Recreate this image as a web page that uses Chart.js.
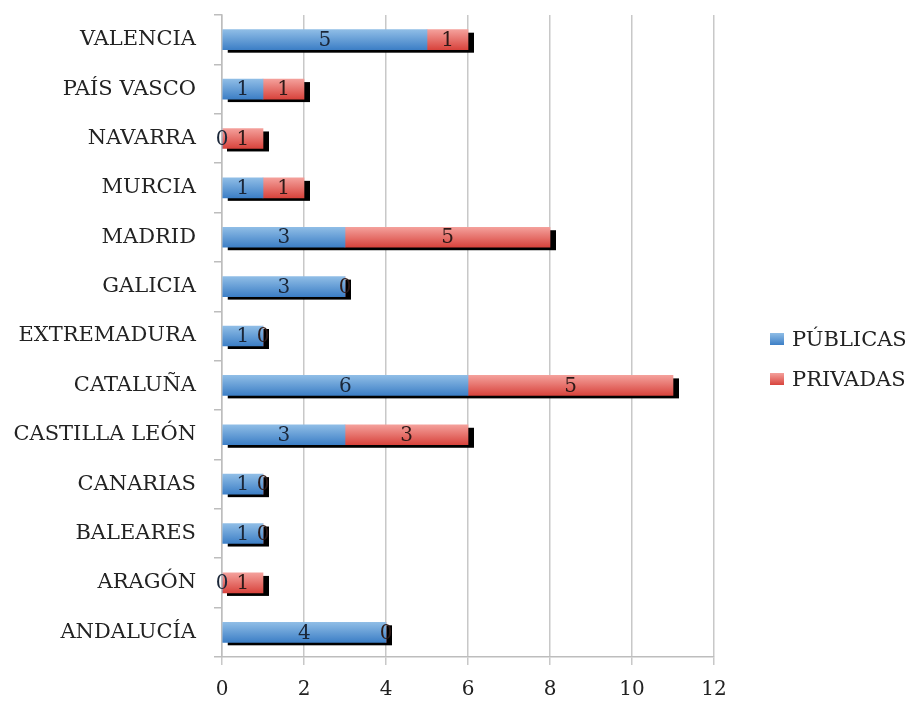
<!DOCTYPE html>
<html>
<head>
<meta charset="utf-8">
<script src="https://cdn.jsdelivr.net/npm/chart.js"></script>
<style>
  html, body { margin: 0; padding: 0; background: #fff; }
  #box { width: 909px; height: 701px; }
</style>
</head>
<body>
<div id="box"><canvas id="c"></canvas></div>
<script>
const regiones = ['VALENCIA', 'PAÍS VASCO', 'NAVARRA', 'MURCIA', 'MADRID', 'GALICIA',
  'EXTREMADURA', 'CATALUÑA', 'CASTILLA LEÓN', 'CANARIAS', 'BALEARES', 'ARAGÓN', 'ANDALUCÍA'];
const publicas = [5, 1, 0, 1, 3, 3, 1, 6, 3, 1, 1, 0, 4];
const privadas = [1, 1, 1, 1, 5, 0, 0, 5, 3, 0, 0, 1, 0];
const ticksX = [0, 2, 4, 6, 8, 10, 12];

const fuente = 'DejaVu Serif';
const grueso = 20;
const colores = [['#8fbde6', '#3d7fc6'], ['#f4a09b', '#d8443d']];

function degradado(par) {
  return function (ctx) {
    const ch = ctx.chart;
    const sy = ch.scales && ch.scales.y;
    if (!sy || ctx.dataIndex === undefined) return par[1];
    const y = sy.getPixelForValue(ctx.dataIndex);
    if (!isFinite(y)) return par[1];
    const g = ch.ctx.createLinearGradient(0, y - grueso / 2, 0, y + grueso / 2);
    g.addColorStop(0, par[0]);
    g.addColorStop(1, par[1]);
    return g;
  };
}

// sombra negra detras de cada barra apilada
const sombra = {
  id: 'sombra',
  beforeDatasetsDraw(chart) {
    const a = chart.getDatasetMeta(0).data;
    const b = chart.getDatasetMeta(1).data;
    const c = chart.ctx;
    c.save();
    c.fillStyle = '#000';
    for (let i = 0; i < a.length; i++) {
      const x0 = a[i].base;
      const x1 = b[i].x;
      const h = a[i].height;
      c.fillRect(x0 + 5, a[i].y - h / 2 + 3, x1 - x0 + 1, h);
    }
    c.restore();
  }
};

// numeros dentro de cada tramo
const etiquetas = {
  id: 'etiquetas',
  afterDatasetsDraw(chart) {
    const c = chart.ctx;
    c.save();
    c.font = '20px "' + fuente + '"';
    c.textAlign = 'center';
    c.textBaseline = 'middle';
    chart.data.datasets.forEach((ds, di) => {
      c.fillStyle = di === 0 ? '#1a2638' : '#2e1a18';
      chart.getDatasetMeta(di).data.forEach((el, i) => {
        const cx = (el.x + el.base) / 2;
        c.fillText(String(ds.data[i]), cx, el.y + 1);
      });
    });
    c.restore();
  }
};

// leyenda a la derecha
const leyenda = {
  id: 'leyenda',
  afterDraw(chart) {
    const c = chart.ctx;
    const ca = chart.chartArea;
    const x = ca.right + 56;
    const y0 = (ca.top + ca.bottom) / 2 + 3;
    c.save();
    c.font = '21px "' + fuente + '"';
    c.textBaseline = 'middle';
    c.textAlign = 'left';
    chart.data.datasets.forEach((ds, i) => {
      const y = y0 + i * 40;
      const g = c.createLinearGradient(0, y - 6, 0, y + 6);
      g.addColorStop(0, colores[i][0]);
      g.addColorStop(1, colores[i][1]);
      c.fillStyle = g;
      c.fillRect(x, y - 6, 14, 12);
      c.fillStyle = '#222';
      c.fillText(ds.label, x + 22, y + 2);
    });
    c.restore();
  }
};

new Chart(document.getElementById('c'), {
  type: 'bar',
  data: {
    labels: regiones,
    datasets: [
      { label: 'PÚBLICAS', data: publicas, backgroundColor: degradado(colores[0]) },
      { label: 'PRIVADAS', data: privadas, backgroundColor: degradado(colores[1]) }
    ]
  },
  options: {
    indexAxis: 'y',
    responsive: true,
    maintainAspectRatio: false,
    animation: false,
    datasets: { bar: { barThickness: grueso, borderWidth: 0 } },
    layout: { padding: { top: 15, left: 12, right: 195, bottom: 0 } },
    scales: {
      x: {
        stacked: true,
        min: 0, max: 12,
        afterBuildTicks(ax) { ax.ticks = ticksX.map(v => ({ value: v })); },
        afterFit(ax) { ax.height = 44; ax.paddingLeft = 0; ax.paddingRight = 0; },
        grid: { color: '#c8c8c8', lineWidth: 1.5, tickLength: 8 },
        border: { color: '#bdbdbd', width: 1.5 },
        ticks: { color: '#222', font: { family: fuente, size: 20 }, padding: 13 }
      },
      y: {
        stacked: true,
        afterFit(ax) { ax.width = 210; ax.paddingTop = 0; ax.paddingBottom = 0; },
        grid: { drawOnChartArea: false, color: '#bdbdbd', lineWidth: 1.5, tickLength: 8 },
        border: { color: '#bdbdbd', width: 1.5 },
        ticks: { color: '#222', font: { family: fuente, size: 21 }, padding: 18 }
      }
    },
    plugins: {
      legend: { display: false },
      tooltip: { enabled: false }
    }
  },
  plugins: [sombra, etiquetas, leyenda]
});
</script>
</body>
</html>
